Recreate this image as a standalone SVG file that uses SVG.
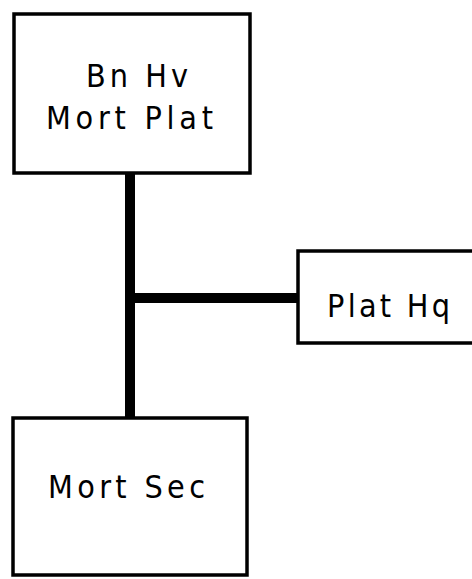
<svg xmlns="http://www.w3.org/2000/svg" width="472" height="579" viewBox="0 0 472 579">
<style>
.box{fill:#fff;stroke:#000;stroke-width:3.5}
.lbl{font-family:"DejaVu Sans Condensed","DejaVu Sans",sans-serif;font-size:32px;fill:#000}
.conn{stroke:#000;stroke-width:10;fill:none}
</style>
<rect width="472" height="579" fill="#fff"/>
<g id="connectors">
<line class="conn" x1="130" y1="172" x2="130" y2="420"/>
<line class="conn" x1="130" y1="298" x2="300" y2="298"/>
</g>
<g id="node-bn-hv">
<rect class="box" x="14" y="14" width="236" height="159"/>
<text class="lbl" x="86" y="87" textLength="102" lengthAdjust="spacing">Bn Hv</text>
<text class="lbl" x="46" y="129" textLength="167" lengthAdjust="spacing">Mort Plat</text>
</g>
<g id="node-plat-hq">
<rect class="box" x="298" y="251" width="190" height="92"/>
<text class="lbl" x="327" y="317" textLength="123" lengthAdjust="spacing">Plat Hq</text>
</g>
<g id="node-mort-sec">
<rect class="box" x="13" y="418" width="234" height="157"/>
<text class="lbl" x="48" y="498" textLength="157" lengthAdjust="spacing">Mort Sec</text>
</g>
</svg>
